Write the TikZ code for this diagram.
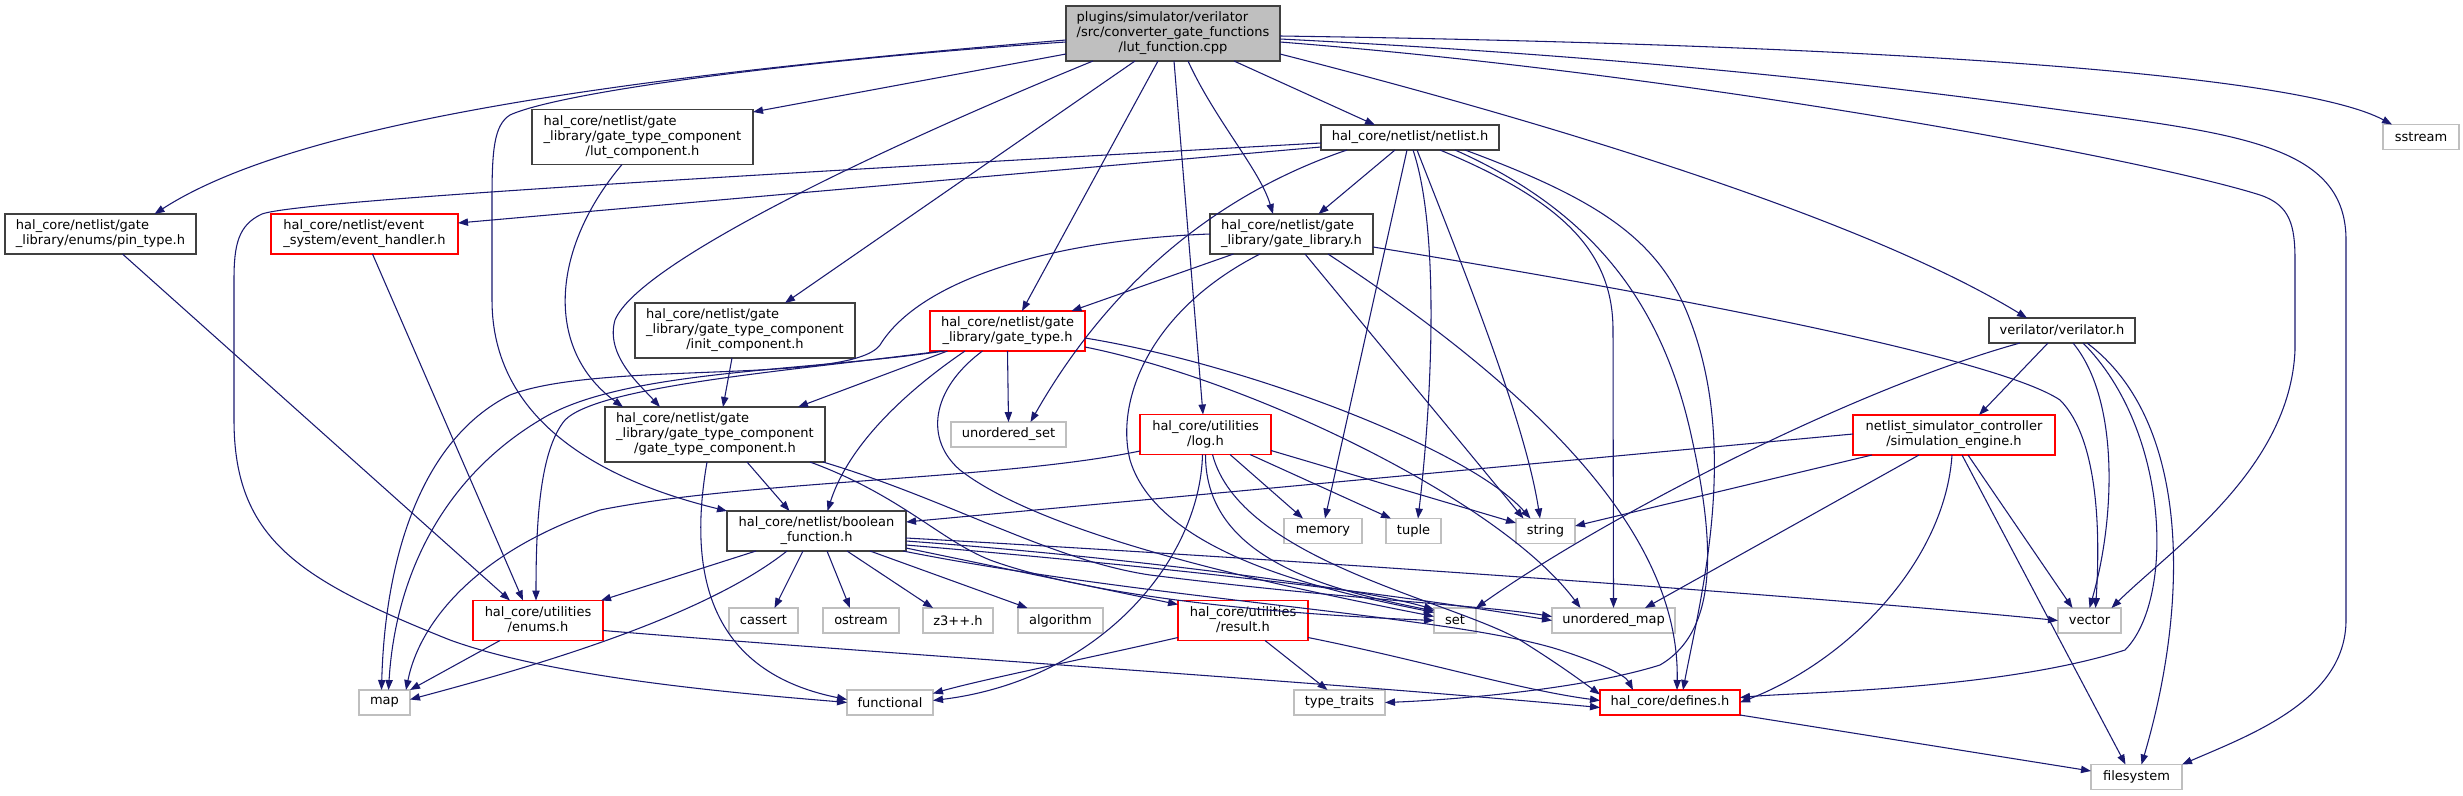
\documentclass[tikz,border=0pt]{standalone}
\usepackage{fontspec}
\setmainfont{DejaVu Sans}
\usetikzlibrary{arrows.meta,calc}
\definecolor{edgec}{HTML}{191970}
\definecolor{docb}{HTML}{404040}
\definecolor{extb}{HTML}{BFBFBF}
\definecolor{topf}{HTML}{BFBFBF}
\newcommand\lab[2]{\begin{tabular}{@{}l@{}}#1\\\multicolumn{1}{@{}c@{}}{#2}\end{tabular}}
\newcommand\nodeat[7]{\node[#6, minimum width=#4*0.75pt, minimum height=#5*0.75pt] (#1) at (#2,#3) {#7};}
\tikzset{
  box/.style={rectangle, inner sep=0pt, outer sep=0pt, line width=0.85pt, fill=white, text=black,
    font=\fontsize{9.75}{11.25}\selectfont},
  doc/.style={box, draw=docb},
  trunc/.style={box, draw=red},
  ext/.style={box, draw=extb},
  topnode/.style={box, draw=docb, fill=topf},
  e/.style={draw=edgec, line width=0.8pt, -{Triangle[length=7.5pt,width=5.5pt]}}
}
\begin{document}
\begin{tikzpicture}[x=0.75pt, y=-0.75pt]
\path[use as bounding box, fill=white] (0,0) rectangle (2463,796);
% nodes
\nodeat{T}{1173}{33.5}{214}{55}{topnode}{\lab{plugins/simulator/verilator\\/src/converter\_gate\_functions}{/lut\_function.cpp}}
\nodeat{lut}{642.5}{137}{221}{55}{doc}{\lab{hal\_core/netlist/gate\\\_library/gate\_type\_component}{/lut\_component.h}}
\nodeat{nl}{1410}{137.5}{178}{25}{doc}{hal\_core/netlist/netlist.h}
\nodeat{ss}{2421}{137}{76}{25}{ext}{sstream}
\nodeat{pin}{100.5}{234}{191}{40}{doc}{\lab{hal\_core/netlist/gate}{\_library/enums/pin\_type.h}}
\nodeat{eh}{364.5}{234}{187}{40}{trunc}{\lab{hal\_core/netlist/event}{\_system/event\_handler.h}}
\nodeat{gl}{1291.5}{234}{163}{40}{doc}{\lab{hal\_core/netlist/gate}{\_library/gate\_library.h}}
\nodeat{init}{745}{330.5}{220}{55}{doc}{\lab{hal\_core/netlist/gate\\\_library/gate\_type\_component}{/init\_component.h}}
\nodeat{gt}{1007.5}{331}{155}{40}{trunc}{\lab{hal\_core/netlist/gate}{\_library/gate\_type.h}}
\nodeat{ver}{2062}{330.5}{146}{25}{doc}{verilator/verilator.h}
\nodeat{gtc}{715}{434.5}{220}{55}{doc}{\lab{hal\_core/netlist/gate\\\_library/gate\_type\_component}{/gate\_type\_component.h}}
\nodeat{us}{1008.5}{434.5}{115}{25}{ext}{unordered\_set}
\nodeat{log}{1205.5}{434.5}{131}{40}{trunc}{\lab{hal\_core/utilities}{/log.h}}
\nodeat{sim}{1954}{435}{202}{40}{trunc}{\lab{netlist\_simulator\_controller}{/simulation\_engine.h}}
\nodeat{bool}{816.5}{531}{179}{40}{doc}{\lab{hal\_core/netlist/boolean}{\_function.h}}
\nodeat{mem}{1323}{531}{78}{25}{ext}{memory}
\nodeat{tup}{1413.5}{531}{55}{25}{ext}{tuple}
\nodeat{str}{1545.5}{531}{59}{25}{ext}{string}
\nodeat{enums}{538}{620.5}{130}{40}{trunc}{\lab{hal\_core/utilities}{/enums.h}}
\nodeat{cas}{763.5}{620.5}{69}{25}{ext}{cassert}
\nodeat{ost}{861}{620.5}{76}{25}{ext}{ostream}
\nodeat{z3}{958}{620.5}{70}{25}{ext}{z3++.h}
\nodeat{alg}{1060.5}{620.5}{85}{25}{ext}{algorithm}
\nodeat{res}{1243}{620.5}{130}{40}{trunc}{\lab{hal\_core/utilities}{/result.h}}
\nodeat{set}{1455}{620.5}{42}{25}{ext}{set}
\nodeat{um}{1613.5}{620.5}{123}{25}{ext}{unordered\_map}
\nodeat{vec}{2089.5}{620.5}{63}{25}{ext}{vector}
\nodeat{map}{384.5}{702.5}{51}{25}{ext}{map}
\nodeat{func}{890}{702.5}{86}{25}{ext}{functional}
\nodeat{tt}{1339.5}{702.5}{91}{25}{ext}{type\_traits}
\nodeat{def}{1670}{702.5}{140}{25}{trunc}{hal\_core/defines.h}
\nodeat{fs}{2136.5}{777}{91}{25}{ext}{filesystem}
% edges from lut_function.cpp
\draw[e] ($(T.west)+(0,6.5)$) .. controls (640,75) and (300,120) .. ($(pin.north)+(54,0)$);
\draw[e] ($(T.west)+(0,8.5)$) .. controls (800,60) and (560,92) .. (510,115) .. controls (494,125) and (492,150) .. (492,200) -- (492,300) .. controls (492,420) and (600,480) .. (bool.north west);
\draw[e] ($(T.west)+(0,20.5)$) -- ($(lut.east)+(0,-25)$);
\draw[e] ($(T.south)+(-38,0)$) -- ($(init.north)+(40,0)$);
\draw[e] ($(T.south)+(-80,0)$) .. controls (900,140) and (640,260) .. (615,320) .. controls (605,355) and (640,385) .. ($(gtc.north)+(-55,0)$);
\draw[e] ($(T.south)+(-15,0)$) -- ($(gt.north)+(14.5,0)$);
\draw[e] ($(T.south)+(1,0)$) -- ($(log.north)+(-2.5,0)$);
\draw[e] ($(T.south)+(15,0)$) .. controls (1215,120) and (1260,170) .. ($(gl.north)+(-18.5,0)$);
\draw[e] ($(T.south)+(61,0)$) -- ($(nl.north)+(-35,0)$);
\draw[e] ($(T.east)+(0,20.5)$) .. controls (1500,110) and (1850,210) .. ($(ver.north)+(-35,0)$);
\draw[e] ($(T.east)+(0,8.5)$) .. controls (1700,75) and (2150,160) .. (2260,195) .. controls (2290,205) and (2295,225) .. (2295,260) -- (2295,350) .. controls (2290,470) and (2170,550) .. ($(vec.north)+(22,0)$);
\draw[e] ($(T.east)+(0,5.5)$) .. controls (1700,60) and (1950,95) .. (2084,113) .. controls (2250,135) and (2346,150) .. (2346,240) -- (2346,620) .. controls (2346,700) and (2250,735) .. (fs.north east);
\draw[e] ($(T.east)+(0,2.5)$) .. controls (1900,45) and (2300,75) .. ($(ss.north)+(-29,0)$);
% components
\draw[e] ($(lut.south)+(-20.5,0)$) .. controls (550,250) and (545,350) .. ($(gtc.north)+(-92,0)$);
\draw[e] ($(init.south)+(-13,0)$) -- ($(gtc.north)+(8,0)$);
\draw[e] ($(pin.south)+(22,0)$) -- ($(enums.north)+(-28,0)$);
\draw[e] ($(eh.south)+(8,0)$) -- ($(enums.north)+(-15,0)$);
% netlist.h
\draw[e] ($(nl.west)+(0,9.5)$) -- ($(eh.east)+(0,-11)$);
\draw[e] ($(nl.west)+(0,5.5)$) .. controls (800,172) and (300,200) .. (262,214) .. controls (238,225) and (234,245) .. (234,280) -- (234,420) .. controls (234,540) and (300,580) .. (450,640) .. controls (560,680) and (760,695) .. (func.west);
\draw[e] ($(nl.south)+(-15,0)$) -- ($(gl.north)+(27,0)$);
\draw[e] ($(nl.south)+(-63,0)$) .. controls (1200,200) and (1100,300) .. ($(us.north)+(22,0)$);
\draw[e] ($(nl.south)+(-3,0)$) -- ($(mem.north)+(2,0)$);
\draw[e] ($(nl.south)+(3,0)$) .. controls (1440,230) and (1432,400) .. ($(tup.north)+(4.5,0)$);
\draw[e] ($(nl.south)+(7,0)$) .. controls (1460,260) and (1525,420) .. ($(str.north)+(-5.5,0)$);
\draw[e] ($(nl.south)+(30,0)$) .. controls (1560,200) and (1613,250) .. (1613,330) -- (um.north);
\draw[e] ($(nl.south)+(55,0)$) .. controls (1600,200) and (1660,240) .. (1690,320) .. controls (1740,450) and (1700,600) .. ($(def.north)+(13,0)$);
\draw[e] ($(nl.south)+(45,0)$) .. controls (1590,210) and (1660,300) .. (1690,430) .. controls (1715,540) and (1720,630) .. (1660,665) .. controls (1580,690) and (1450,700) .. (tt.east);
% gate_library.h
\draw[e] ($(gl.south)+(-58,0)$) -- ($(gt.north)+(64,0)$);
\draw[e] (gl.west) .. controls (1050,240) and (920,280) .. (880,345) .. controls (850,385) and (600,360) .. (510,395) .. controls (420,440) and (385,560) .. ($(map.north)+(-3,0)$);
\draw[e] ($(gl.south)+(-31.5,0)$) .. controls (1150,310) and (1115,400) .. (1130,460) .. controls (1160,560) and (1350,595) .. ($(set.west)+(0,-8)$);
\draw[e] ($(gl.south)+(13.5,0)$) -- ($(str.north)+(-22,0)$);
\draw[e] ($(gl.south)+(36.5,0)$) .. controls (1550,400) and (1680,540) .. ($(def.north)+(7,0)$);
\draw[e] ($(gl.east)+(0,13)$) .. controls (1700,300) and (2000,360) .. (2060,400) .. controls (2100,440) and (2100,540) .. ($(vec.north)+(6,0)$);
% gate_type.h
\draw[e] ($(gt.south)+(-60,0)$) -- ($(gtc.north)+(83,0)$);
\draw[e] ($(gt.south)+(-42.5,0)$) .. controls (915,385) and (850,440) .. ($(bool.north)+(11,0)$);
\draw[e] (gt.south) -- (us.north);
\draw[e] ($(gt.south)+(-66,0)$) .. controls (800,370) and (600,385) .. (565,420) .. controls (540,450) and (536,520) .. ($(enums.north)+(-2,0)$);
\draw[e] ($(gt.south)+(-63,0)$) .. controls (800,372) and (620,370) .. (540,420) .. controls (440,480) and (395,580) .. ($(map.north)+(4,0)$);
\draw[e] ($(gt.south)+(-25,0)$) .. controls (930,390) and (925,440) .. (960,470) .. controls (1050,540) and (1300,590) .. ($(set.west)+(0,-4)$);
\draw[e] ($(gt.east)+(0,7)$) .. controls (1250,365) and (1470,450) .. ($(str.north)+(-15,0)$);
\draw[e] ($(gt.east)+(0,16)$) .. controls (1250,380) and (1500,500) .. ($(um.north)+(-33,0)$);
% gate_type_component.h
\draw[e] ($(gtc.south)+(32,0)$) -- ($(bool.north)+(-27,0)$);
\draw[e] ($(gtc.south)+(-8,0)$) .. controls (690,560) and (700,670) .. ($(func.west)+(0,-3)$);
\draw[e] ($(gtc.south)+(95,0)$) .. controls (900,495) and (940,540) .. (990,560) .. controls (1100,600) and (1300,615) .. (set.west);
\draw[e] ($(gtc.south)+(108,0)$) .. controls (950,500) and (1050,560) .. (1150,575) .. controls (1350,600) and (1480,605) .. ($(um.west)+(0,-4)$);
% boolean_function.h
\draw[e] ($(bool.south)+(-60.5,0)$) -- ($(enums.north east)+(-2,0)$);
\draw[e] ($(bool.south)+(-29.5,0)$) .. controls (700,620) and (520,670) .. ($(map.east)+(0,-3)$);
\draw[e] ($(bool.south)+(-13.5,0)$) -- ($(cas.north)+(11,0)$);
\draw[e] ($(bool.south)+(10.5,0)$) -- ($(ost.north)+(-11,0)$);
\draw[e] ($(bool.south)+(30.5,0)$) -- ($(z3.north)+(-25,0)$);
\draw[e] ($(bool.south)+(53.5,0)$) -- ($(alg.north)+(-33,0)$);
\draw[e] ($(bool.east)+(0,17)$) -- ($(res.north west)+(0,4)$);
\draw[e] ($(bool.east)+(0,7)$) .. controls (1300,560) and (1800,595) .. (vec.west);
\draw[e] ($(bool.east)+(0,10)$) .. controls (1100,555) and (1350,585) .. ($(set.west)+(0,-11)$);
\draw[e] ($(bool.east)+(0,14)$) .. controls (1200,570) and (1400,595) .. (um.west);
\draw[e] ($(bool.south east)+(-3,0)$) .. controls (1150,600) and (1450,615) .. (1560,650) .. controls (1600,663) and (1625,675) .. ($(def.north west)+(33,0)$);
% log.h
\draw[e] ($(log.west)+(0,16.5)$) .. controls (1000,480) and (750,480) .. (600,510) .. controls (480,550) and (420,620) .. ($(map.north east)+(-4,0)$);
\draw[e] ($(log.south)+(-3,0)$) .. controls (1200,560) and (1100,680) .. ($(func.east)+(0,-2)$);
\draw[e] ($(log.south)+(24.5,0)$) -- ($(mem.north)+(-20,0)$);
\draw[e] ($(log.south)+(44.5,0)$) -- ($(tup.north west)+(5,0)$);
\draw[e] ($(log.east)+(0,16)$) -- ($(str.west)+(0,-8)$);
\draw[e] (log.south) .. controls (1205,560) and (1330,590) .. ($(set.north west)+(0,3)$);
\draw[e] ($(log.south)+(7,0)$) .. controls (1240,560) and (1450,600) .. (1520,640) .. controls (1560,665) and (1580,680) .. ($(def.west)+(0,-8)$);
% result.h
\draw[e] ($(res.west)+(0,17)$) .. controls (1080,660) and (980,680) .. ($(func.east)+(0,-9)$);
\draw[e] ($(res.south)+(22,0)$) -- ($(tt.north)+(-12,0)$);
\draw[e] ($(res.east)+(0,17)$) .. controls (1420,660) and (1520,690) .. ($(def.west)+(0,-2)$);
% enums.h
\draw[e] ($(enums.south)+(-38,0)$) -- (map.north east);
\draw[e] ($(enums.east)+(0,10)$) .. controls (900,655) and (1300,680) .. ($(def.west)+(0,5)$);
% simulation_engine.h
\draw[e] ($(sim.west)+(0,-1)$) -- ($(bool.east)+(0,-9)$);
\draw[e] ($(sim.south west)+(19,0)$) -- ($(str.east)+(0,-5)$);
\draw[e] ($(sim.south)+(-35,0)$) -- ($(um.north east)+(-30,0)$);
\draw[e] ($(sim.south)+(-2,0)$) .. controls (1945,560) and (1850,660) .. (def.east);
\draw[e] ($(sim.south)+(14,0)$) -- ($(vec.north)+(-17,0)$);
\draw[e] ($(sim.south)+(8,0)$) -- ($(fs.north)+(-11,0)$);
% verilator.h
\draw[e] ($(ver.south)+(-14,0)$) -- ($(sim.north)+(25,0)$);
\draw[e] ($(ver.south west)+(31,0)$) .. controls (1850,390) and (1600,520) .. (set.north east);
\draw[e] ($(ver.south)+(11,0)$) .. controls (2120,400) and (2115,520) .. (vec.north);
\draw[e] ($(ver.south)+(25,0)$) .. controls (2190,420) and (2190,600) .. ($(fs.north)+(5,0)$);
\draw[e] ($(ver.south)+(21,0)$) .. controls (2170,430) and (2175,600) .. (2125,650) .. controls (2000,690) and (1800,692) .. ($(def.east)+(0,-5)$);
% defines.h
\draw[e] (def.south east) -- ($(fs.west)+(0,-6)$);
\end{tikzpicture}
\end{document}
